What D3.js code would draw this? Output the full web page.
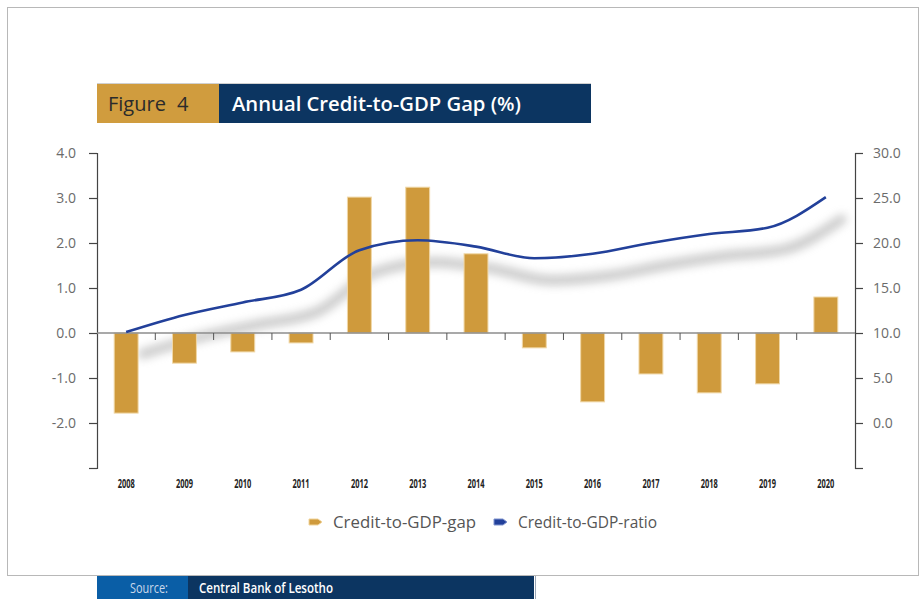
<!DOCTYPE html>
<html>
<head>
<meta charset="utf-8">
<script src="https://cdn.jsdelivr.net/npm/d3@7"></script>
<style>
  body { margin: 0; background: #fff; }
  svg text { font-family: "Open Sans", "Noto Sans", sans-serif; }
</style>
</head>
<body>
<div id="chart"></div>
<script>
// chart data
var years = ["2008","2009","2010","2011","2012","2013","2014","2015","2016","2017","2018","2019","2020"];
var gapValues = [-1.78, -0.67, -0.42, -0.22, 3.02, 3.24, 1.76, -0.33, -1.53, -0.91, -1.33, -1.13, 0.80];
var ratioValues = [10.1, 12.0, 13.4, 14.8, 19.2, 20.3, 19.6, 18.3, 18.8, 20.0, 21.0, 21.7, 25.1];
var leftTicks = [4, 3, 2, 1, 0, -1, -2];
var rightTicks = [30, 25, 20, 15, 10, 5, 0];
var legendLabels = ["Credit-to-GDP-gap", "Credit-to-GDP-ratio"];

var W = 924, H = 599;
var plot = {left: 97, right: 855, top: 153, bottom: 468};
var gold = "#cf9a3c", navy = "#0c3561", lineBlue = "#22409a";

var svg = d3.select("#chart").append("svg")
  .attr("width", W).attr("height", H);

var defs = svg.append("defs");
defs.append("filter").attr("id", "blur")
  .attr("x", "-20%").attr("y", "-50%").attr("width", "140%").attr("height", "200%")
  .append("feGaussianBlur").attr("stdDeviation", 5);

// outer frame
svg.append("rect")
  .attr("x", 7.5).attr("y", 7.5).attr("width", 911).attr("height", 568)
  .attr("fill", "none").attr("stroke", "#b8b8b8").attr("stroke-width", 1);

// title boxes
svg.append("line").attr("x1", 97).attr("x2", 591).attr("y1", 83.5).attr("y2", 83.5)
  .attr("stroke", "#d0d0d0");
svg.append("rect").attr("x", 97).attr("y", 84).attr("width", 122).attr("height", 39).attr("fill", "#d09c3e");
svg.append("rect").attr("x", 219).attr("y", 84).attr("width", 372).attr("height", 39).attr("fill", navy);
svg.append("text").attr("x", 108).attr("y", 111).attr("font-size", 20).attr("fill", "#2b2b2b")
  .text("Figure");
svg.append("text").attr("x", 177).attr("y", 111).attr("font-size", 20).attr("fill", "#2b2b2b")
  .text("4");
svg.append("text").attr("x", 232).attr("y", 111).attr("font-size", 19).attr("font-weight", 600)
  .attr("textLength", 289).attr("lengthAdjust", "spacingAndGlyphs")
  .attr("fill", "#fff").text("Annual Credit-to-GDP Gap (%)");

// scales
var x = d3.scaleBand().domain(years).range([plot.left, plot.right])
  .paddingInner(0.59).paddingOuter(0.295);
var yL = d3.scaleLinear().domain([-3, 4]).range([plot.bottom, plot.top]);
var yR = d3.scaleLinear().domain([-5, 30]).range([plot.bottom, plot.top]);

function fmt(d){ return d.toFixed(1); }

// axes
var axisL = svg.append("g").attr("transform", "translate(" + plot.left + ",0)")
  .call(d3.axisLeft(yL).tickValues(d3.range(-3, 5)).tickSize(8).tickPadding(13)
    .tickFormat(function(d){ return leftTicks.indexOf(d) >= 0 ? fmt(d) : ""; }));
var axisR = svg.append("g").attr("transform", "translate(" + plot.right + ",0)")
  .call(d3.axisRight(yR).tickValues(d3.range(-5, 35, 5)).tickSize(8).tickPadding(10)
    .tickFormat(function(d){ return rightTicks.indexOf(d) >= 0 ? fmt(d) : ""; }));
[axisL, axisR].forEach(function(a){
  a.select(".domain").attr("stroke", "#444").attr("stroke-width", 1.2);
  a.selectAll(".tick line").attr("stroke", "#444").attr("stroke-width", 1.2);
  a.selectAll(".tick text").attr("fill", "#6b6b6b").attr("font-size", 14)
    .style("font-family", "'Open Sans', sans-serif");
});

// shadow of the ratio line
var line = d3.line()
  .x(function(d, i){ return x(years[i]) + x.bandwidth() / 2; })
  .y(function(d){ return yR(d); })
  .curve(d3.curveMonotoneX);

svg.append("path").datum(ratioValues)
  .attr("d", line)
  .attr("transform", "translate(16,22)")
  .attr("fill", "none").attr("stroke", "#8a8a8a").attr("stroke-width", 9)
  .attr("stroke-linecap", "round")
  .attr("opacity", 0.5)
  .attr("filter", "url(#blur)");

// bars
svg.append("g").selectAll("rect").data(gapValues).join("rect")
  .attr("x", function(d, i){ return x(years[i]); })
  .attr("width", x.bandwidth())
  .attr("y", function(d){ return yL(Math.max(0, d)); })
  .attr("height", function(d){ return Math.abs(yL(d) - yL(0)); })
  .attr("fill", gold)
  .attr("stroke", "#f0d7a6").attr("stroke-width", 1);

// zero line and category ticks
svg.append("line").attr("x1", plot.left).attr("x2", plot.right)
  .attr("y1", yL(0)).attr("y2", yL(0))
  .attr("stroke", "#8c8c8c").attr("stroke-width", 1.5);
svg.append("g").selectAll("line").data(years.slice(1)).join("line")
  .attr("x1", function(d){ return x(d) - x.step() * x.paddingInner() / 2; })
  .attr("x2", function(d){ return x(d) - x.step() * x.paddingInner() / 2; })
  .attr("y1", yL(0)).attr("y2", yL(0) + 7)
  .attr("stroke", "#555").attr("stroke-width", 1);

// ratio line
svg.append("path").datum(ratioValues)
  .attr("d", line)
  .attr("fill", "none").attr("stroke", lineBlue).attr("stroke-width", 2.6)
  .attr("stroke-linejoin", "round");

// category labels
svg.append("g").selectAll("text").data(years).join("text")
  .attr("x", function(d){ return x(d) + x.bandwidth() / 2 - 8.5; })
  .attr("y", 488)
  .attr("font-size", 12.5).attr("font-weight", "bold")
  .attr("textLength", 17).attr("lengthAdjust", "spacingAndGlyphs")
  .attr("fill", "#222")
  .text(function(d){ return d; });

// legend
var legendX = [309, 494];
var legendCol = [gold, lineBlue];
var lg = svg.append("g").selectAll("g").data(legendLabels).join("g")
  .attr("transform", function(d, i){ return "translate(" + legendX[i] + ",522)"; });
lg.append("path")
  .attr("d", "M0,-3 L9,-3 L13,0 L9,3 L0,3 Z")
  .attr("fill", function(d, i){ return legendCol[i]; })
  .attr("stroke", function(d, i){ return i ? "#7f93cf" : "#f1d59c"; })
  .attr("stroke-width", 1);
lg.append("text").attr("x", 24).attr("y", 5.5)
  .attr("font-size", 15.5).attr("fill", "#555")
  .attr("textLength", function(d, i){ return i ? 139 : 143; })
  .attr("lengthAdjust", "spacingAndGlyphs")
  .text(function(d){ return d; });

// source bar
svg.append("rect").attr("x", 97).attr("y", 576).attr("width", 91).attr("height", 23).attr("fill", "#0a5ea6");
svg.append("rect").attr("x", 188).attr("y", 576).attr("width", 346).attr("height", 23).attr("fill", navy);
svg.append("line").attr("x1", 535.5).attr("x2", 535.5).attr("y1", 576).attr("y2", 599).attr("stroke", "#9aa6b6");
svg.append("text").attr("x", 130).attr("y", 593).attr("font-size", 14).attr("fill", "#c9d8ea")
  .attr("textLength", 38).attr("lengthAdjust", "spacingAndGlyphs").text("Source:");
svg.append("text").attr("x", 199).attr("y", 593).attr("font-size", 14).attr("fill", "#fff")
  .attr("font-weight", 600)
  .attr("textLength", 134).attr("lengthAdjust", "spacingAndGlyphs").text("Central Bank of Lesotho");
</script>
</body>
</html>
